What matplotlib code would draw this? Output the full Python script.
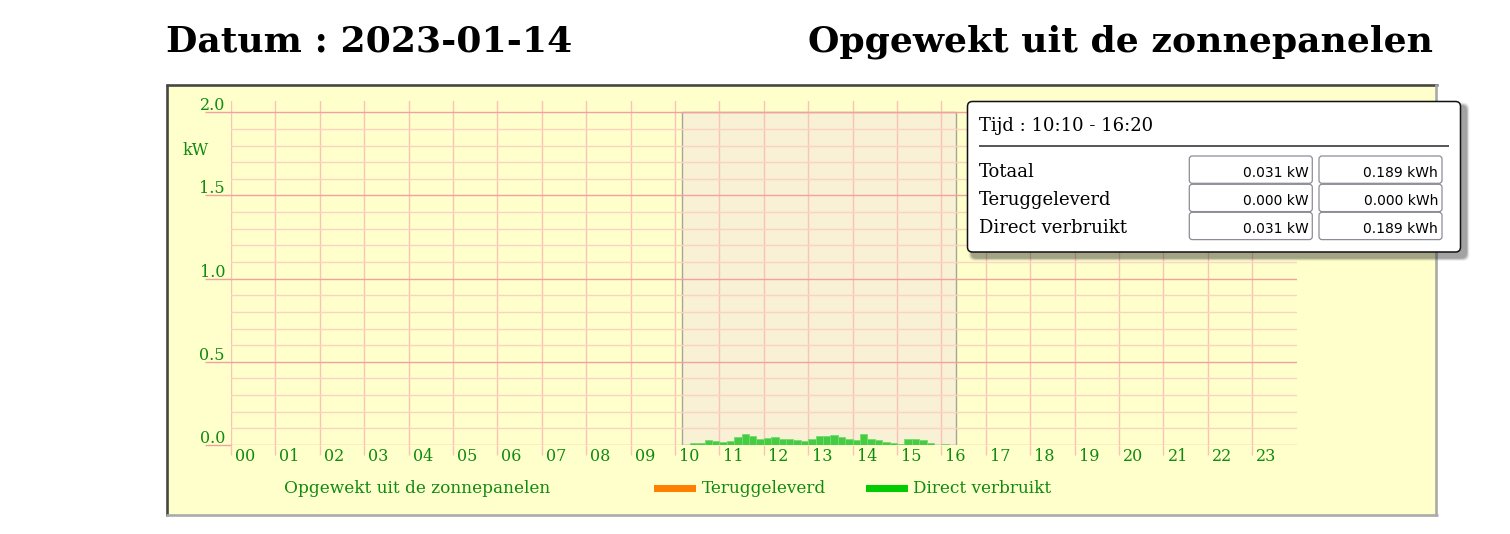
import matplotlib
matplotlib.use("Agg")
import matplotlib.pyplot as plt
from matplotlib.patches import Rectangle, FancyBboxPatch
from matplotlib.transforms import offset_copy
import numpy as np

# ---- data ------------------------------------------------------------------
date_label = "2023-01-14"
hour_labels = [f"{h:02d}" for h in range(24)]
y_ticks = [0.0, 0.5, 1.0, 1.5, 2.0]

# 10-minute intervals (start time) with the directly used solar power in kW
slot_times = [
    "10:20", "10:30", "10:40", "10:50", "11:00", "11:10", "11:20", "11:30",
    "11:40", "11:50", "12:00", "12:10", "12:20", "12:30", "12:40", "12:50",
    "13:00", "13:10", "13:20", "13:30", "13:40", "13:50", "14:00", "14:10",
    "14:20", "14:30", "14:40", "14:50", "15:00", "15:10", "15:20", "15:30",
    "15:40", "15:50", "16:00",
]
direct_kw = [
    0.014, 0.014, 0.030, 0.024, 0.018, 0.024, 0.048, 0.068,
    0.052, 0.036, 0.044, 0.048, 0.036, 0.036, 0.030, 0.024,
    0.036, 0.056, 0.056, 0.062, 0.048, 0.036, 0.030, 0.068,
    0.038, 0.028, 0.020, 0.014, 0.008, 0.036, 0.036, 0.028,
    0.014, 0.003, 0.008,
]
returned_kw = [0.0] * len(direct_kw)

selection = ("10:10", "16:20")
tooltip_rows = ["Totaal", "Teruggeleverd", "Direct verbruikt"]
tooltip_kw = [0.031, 0.000, 0.031]
tooltip_kwh = [0.189, 0.000, 0.189]

legend_items = ["Teruggeleverd", "Direct verbruikt"]
legend_colors = ["#ff8000", "#00cc00"]


def to_hours(t):
    h, m = t.split(":")
    return int(h) + int(m) / 60


# ---- figure / layout (pixel based) ------------------------------------------
W, H, DPI = 1510, 534, 100
SERIF = "DejaVu Serif"
GREEN_TXT = "#118a11"

fig = plt.figure(figsize=(W / DPI, H / DPI), dpi=DPI)
fig.patch.set_facecolor("white")

bg = fig.add_axes([0, 0, 1, 1], zorder=0)
bg.set_xlim(0, W)
bg.set_ylim(H, 0)
bg.axis("off")

fg = fig.add_axes([0, 0, 1, 1], zorder=5)
fg.set_xlim(0, W)
fg.set_ylim(H, 0)
fg.axis("off")
fg.patch.set_alpha(0)

# outer yellow box with inset border
bg.add_patch(Rectangle((166, 84), 1271.5, 432, facecolor="#ffffcc", edgecolor="none"))
bg.plot([166, 1437.5], [85.3, 85.3], color="#474747", lw=1.9, solid_capstyle="butt")
bg.plot([167.3, 167.3], [84, 516], color="#474747", lw=1.9, solid_capstyle="butt")
bg.plot([166, 1437.5], [514.7, 514.7], color="#aaaaaa", lw=1.9, solid_capstyle="butt")
bg.plot([1436.3, 1436.3], [84, 516], color="#aaaaaa", lw=1.9, solid_capstyle="butt")

# titles
bg.text(166, 51.7, f"Datum : {date_label}", family=SERIF, weight="bold",
        fontsize=26, color="black", ha="left", va="baseline")
bg.text(1433, 51.7, "Opgewekt uit de zonnepanelen", family=SERIF, weight="bold",
        fontsize=26, color="black", ha="right", va="baseline")

# ---- main plot ----------------------------------------------------------------
x0, x1 = 231, 1296.7
y_zero, y_top_px = 445, 101
px_per_kw = (445 - 112.3) / 2.0
ymax = 2.0 + (112.3 - y_top_px) / px_per_kw

ax = fig.add_axes([x0 / W, (H - y_zero) / H, (x1 - x0) / W, (y_zero - y_top_px) / H],
                  zorder=2)
ax.patch.set_alpha(0)
ax.set_xlim(0, 24)
ax.set_ylim(0, ymax)
for s in ax.spines.values():
    s.set_visible(False)

ax.set_xticks(np.arange(24))
ax.set_yticks(y_ticks)
ax.set_yticks(np.arange(0.1, 2.0, 0.1), minor=True)
ax.set_xticks([], minor=True)
ax.set_axisbelow(True)
ax.grid(axis="x", which="major", color="#fcc3b4", lw=1.0)
ax.grid(axis="y", which="major", color="#f4a0a0", lw=1.0)
ax.grid(axis="y", which="minor", color="#fcd2c0", lw=1.0)
ax.tick_params(axis="y", which="major", length=26 * 0.72, width=1.0,
               color="#f4a0a0", labelleft=False)
ax.tick_params(axis="y", which="minor", length=0, labelleft=False)
ax.tick_params(axis="x", which="major", length=10 * 0.72, width=1.0,
               color="#fcc3b4", labelbottom=False)

# selected time range
s0, s1 = to_hours(selection[0]), to_hours(selection[1])
ax.add_patch(Rectangle((s0, 0), s1 - s0, 2.0, facecolor="#f8f1d6",
                       edgecolor="#a8a498", lw=1.0, zorder=0.2))

# bars
x_start = [to_hours(t) for t in slot_times]
ax.bar(x_start, direct_kw, width=1 / 6, align="edge", color="#46cc42",
       edgecolor="#74dc6c", linewidth=0.6, zorder=3)
ax.bar(x_start, returned_kw, bottom=direct_kw, width=1 / 6, align="edge",
       color="#ff8000", linewidth=0, zorder=3)

# tick labels
ylab_tr = offset_copy(ax.transData, fig=fig, x=-6, y=2, units="dots")
for v in y_ticks:
    ax.text(0, v, f"{v:.1f}", transform=ylab_tr, ha="right", va="baseline",
            family=SERIF, fontsize=11.5, color=GREEN_TXT, clip_on=False)
xlab_tr = offset_copy(ax.transData, fig=fig, x=4, y=-15.7, units="dots")
for h, lab in enumerate(hour_labels):
    ax.text(h, 0, lab, transform=xlab_tr, ha="left", va="baseline",
            family=SERIF, fontsize=11.5, color=GREEN_TXT, clip_on=False)

bg.text(182.5, 155, "kW", family=SERIF, fontsize=11.5, color=GREEN_TXT,
        ha="left", va="baseline")

# legend
bg.text(284.3, 493.3, "Opgewekt uit de zonnepanelen", family=SERIF, fontsize=12.2,
        color=GREEN_TXT, ha="left", va="baseline")
for (sx, tx), lab, col in zip([(654, 701.7), (865.5, 913.3)], legend_items, legend_colors):
    bg.add_patch(Rectangle((sx, 485), 42, 6.5, facecolor=col, edgecolor="none"))
    bg.text(tx, 493.3, lab, family=SERIF, fontsize=12.2, color=GREEN_TXT,
            ha="left", va="baseline")

# ---- tooltip --------------------------------------------------------------------
tx0, ty0, tw, th = 967.5, 101.5, 493, 150.5
# soft drop shadow, offset to the lower right
for i, a in enumerate([0.04, 0.06, 0.08, 0.10, 0.12, 0.14]):
    d = 8 - i
    fg.add_patch(FancyBboxPatch((tx0 + 5 - d * 0.5, ty0 + 5 - d * 0.5),
                                tw + d, th + d,
                                boxstyle="round,pad=0,rounding_size=6",
                                facecolor="#303030", edgecolor="none", alpha=a))
fg.add_patch(FancyBboxPatch((tx0, ty0), tw, th, boxstyle="round,pad=0,rounding_size=5",
                            facecolor="white", edgecolor="#111111", lw=1.1))
fg.text(979, 130.7, f"Tijd : {selection[0]} - {selection[1]}", family=SERIF,
        fontsize=13, color="black", ha="left", va="baseline")
fg.plot([979, 1449], [145.7, 145.7], color="#555555", lw=1.4, solid_capstyle="butt")

row_top = [156, 184.3, 212.3]
for top, lab, kw, kwh in zip(row_top, tooltip_rows, tooltip_kw, tooltip_kwh):
    base = top + 20.7
    fg.text(979, base, lab, family=SERIF, fontsize=13, color="black",
            ha="left", va="baseline")
    for bx, val in [(1189.3, f"{kw:.3f} kW"), (1319, f"{kwh:.3f} kWh")]:
        fg.add_patch(FancyBboxPatch((bx, top), 123, 27.3,
                                    boxstyle="round,pad=0,rounding_size=3",
                                    facecolor="white", edgecolor="#8c8c96", lw=0.9))
        fg.text(bx + 119, base, val, family="DejaVu Sans", fontsize=10,
                color="black", ha="right", va="baseline")

fig.savefig("out.png", dpi=DPI, facecolor=fig.get_facecolor())
